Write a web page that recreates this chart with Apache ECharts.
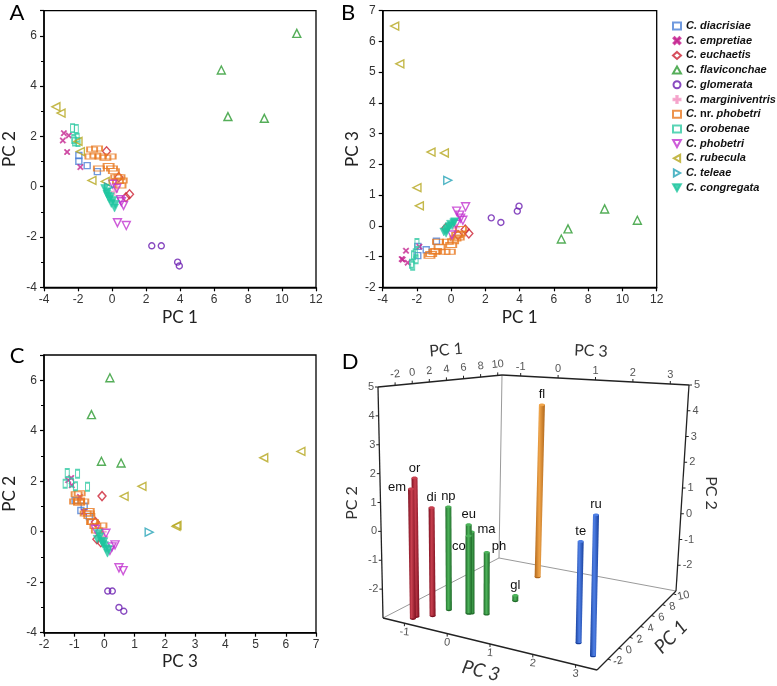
<!DOCTYPE html>
<html><head><meta charset="utf-8">
<script src="https://cdn.jsdelivr.net/npm/echarts@6/dist/echarts.min.js"></script>
<style>html,body{margin:0;padding:0;background:#fff}#c{width:777px;height:686px}</style>
</head><body><div id="c"></div>
<script>
// ---- data: each point is [PC1, PC2, PC3] ----
const speciesNames = ['C. diacrisiae','C. empretiae','C. euchaetis','C. flaviconchae','C. glomerata','C. marginiventris','C. nr. phobetri','C. orobenae','C. phobetri','C. rubecula','C. teleae','C. congregata'];
const diacrisiae = [[-1.95,1.24,-0.97],[-1.95,1.01,-0.67],[-1.46,0.84,-0.78],[-0.86,0.6,-0.5]];
const empretiae = [[-2.83,2.13,-1.1],[-2.54,2.04,-1.2],[-2.89,1.84,-1.08],[-2.64,1.38,-0.81],[-1.86,0.78,-0.68]];
const euchaetis = [[-0.32,1.41,-0.08],[1.03,-0.3,-0.25],[0.82,-0.42,-0.12],[0.4,0.38,-0.3]];
const flaviconchae = [[10.87,6.1,0.18],[6.43,4.64,-0.43],[6.82,2.79,-0.1],[8.96,2.72,0.55]];
const glomerata = [[2.34,-2.35,0.26],[2.9,-2.35,0.11],[3.86,-3.0,0.48],[3.96,-3.15,0.64]];
const marginiventris = [[0.14,-0.2,0.0],[0.3,0.0,-0.05]];
const nrPhobetri = [[-1.17,1.48,-0.92],[-0.88,1.52,-0.82],[-1.27,1.2,-0.97],[-0.98,1.24,-0.84],[-0.68,1.2,-0.7],[-0.39,1.15,-0.84],[-0.08,1.2,-0.84],[-0.77,0.72,-0.52],[-0.2,0.82,-0.52],[0.0,0.72,-0.62],[0.11,0.62,-0.5],[0.25,0.38,-0.41],[0.44,0.38,-0.38],[0.35,0.23,-0.3],[0.5,0.05,-0.25],[0.57,0.25,-0.1]];
const orobenae = [[-2.32,2.33,-1.23],[-2.1,2.3,-0.89],[-2.05,1.95,-1.09],[-2.2,1.8,-0.96],[-2.0,1.78,-0.56],[-2.25,1.9,-1.3]];
const phobetri = [[0.32,-1.43,0.48],[0.84,-1.54,0.62],[0.68,-0.74,0.18],[0.5,-0.52,0.35],[0.55,-0.6,0.25],[0.28,-0.06,0.05],[0.04,0.1,-0.3]];
const rubecula = [[-3.3,3.18,6.5],[-3.0,2.93,5.27],[-2.0,1.8,1.24],[-1.86,1.4,0.65],[-1.18,0.25,2.4],[-0.4,0.21,2.37]];
const teleae = [[-0.2,-0.02,1.48]];
const congregata = [[-0.43,-0.07,-0.2],[-0.28,-0.2,-0.15],[-0.24,-0.38,-0.1],[-0.14,-0.5,-0.05],[0.05,-0.55,0.0],[-0.04,-0.67,0.05],[0.15,-0.85,0.1],[-0.3,-0.3,-0.24],[0.2,-0.7,0.13],[-0.1,-0.4,-0.02]];
const speciesData = [diacrisiae,empretiae,euchaetis,flaviconchae,glomerata,marginiventris,nrPhobetri,orobenae,phobetri,rubecula,teleae,congregata];

// panel D (centroid bars): label, PC1, PC3, PC2 top
const dLabels = ['em','or','di','np','eu','co','ma','ph','gl','fl','te','ru'];
const dPC1 = [-2.9,-2.45,-1.7,-0.1,0.1,0.1,0.2,0.6,3.8,8.5,-0.6,-2.05];
const dPC3 = [-1.0,-1.0,-0.75,-0.65,-0.2,-0.2,-0.15,0.15,0.3,0.0,2.6,3.15];
const dPC2 = [1.5,1.85,0.8,0.7,0.15,-0.25,-0.1,-0.8,-2.8,4.0,0.35,1.5];
const dGroup = ['r','r','r','g','g','g','g','g','g','o','b','b'];
const dTicksPC1 = [-2,0,2,4,6,8,10];
const dTicksPC3 = [-1,0,1,2,3];
const dTicksPC2 = [-2,-1,0,1,2,3,4,5];

// ---- styles ----
const X_PATH = 'path://M0,1.6L1.6,0L5,3.4L8.4,0L10,1.6L6.6,5L10,8.4L8.4,10L5,6.6L1.6,10L0,8.4L3.4,5Z';
const PLUS_PATH = 'path://M4,0H6V4H10V6H6V10H4V6H0V4H4Z';
const TRI_DOWN = 'path://M0,0L10,0L5,9Z';
const TRI_LEFT = 'path://M9,0L9,10L0,5Z';
const TRI_RIGHT = 'path://M0,0L0,10L9,5Z';
const styles = [
  {symbol:'rect', size:6, color:'#4b7fd6', hollow:true},
  {symbol:X_PATH, size:6, color:'#c4228f', hollow:false},
  {symbol:'diamond', size:[8,9], color:'#cc2233', hollow:true},
  {symbol:'triangle', size:8, color:'#2b9a2f', hollow:true},
  {symbol:'circle', size:6, color:'#6a1db0', hollow:true},
  {symbol:PLUS_PATH, size:7, color:'#f49ac6', hollow:false},
  {symbol:'rect', size:[10,5], color:'#e8781f', hollow:true},
  {symbol:'rect', size:[4,8], color:'#2fc9a2', hollow:true},
  {symbol:TRI_DOWN, size:8, color:'#c233cf', hollow:true},
  {symbol:TRI_LEFT, size:8, color:'#b5a61d', hollow:true},
  {symbol:TRI_RIGHT, size:8, color:'#24a2b6', hollow:true},
  {symbol:TRI_DOWN, size:8, color:'#1fc69f', hollow:false}
];
const dColors = {r:['#7d1020','#c8404f'], g:['#1f6b29','#4db35a'], o:['#b0661a','#f0a54a'], b:['#173f9c','#4f80e6']};

const FONT = '"Liberation Sans", Arial, sans-serif';
const TFONT = 'Lato, "Open Sans", sans-serif';

// ---- scatter panels ----
const grids = [
  {left:42.3, top:10.7, width:273.7, height:276.6},
  {left:382.7, top:10.7, width:274, height:276.6},
  {left:42.3, top:355, width:273.7, height:277.7}
];
function axis(gi, min, max, interval, name, gap, minor, isY, hideTop) {
  return {
    gridIndex: gi, type:'value', min, max, interval,
    name, nameLocation:'middle', nameGap: gap,
    nameTextStyle:{fontFamily:TFONT, fontSize:17, color:'#222'},
    axisLine:{show:true, onZero:false, lineStyle:{color:'#000', width:1.5}},
    axisTick:{show:true, length:4, lineStyle:{color:'#000', width:1.2}},
    minorTick:{show:minor, splitNumber:2, length:3, lineStyle:{color:'#000', width:1}},
    axisLabel:{fontFamily:FONT, fontSize:12, color:'#333', margin:isY?7:6,
      showMinLabel:true, showMaxLabel:true,
      formatter: v => (hideTop && v===max) ? '' : String(v)},
    splitLine:{show:false}
  };
}
const xAxes = [
  axis(0,-4,12,2,'PC 1',22,false,false,false),
  axis(1,-4,12,2,'PC 1',22,false,false,false),
  axis(2,-2,7,1,'PC 3',20,false,false,false)
];
const yAxes = [
  axis(0,-4,7,2,'PC 2',26,true,true,true),
  axis(1,-2,7,1,'PC 3',22,false,true,false),
  axis(2,-4,7,2,'PC 2',26,true,true,true)
];

const panelDims = [[0,1],[0,2],[2,1]];
const series = [];
panelDims.forEach((dims, pi) => {
  speciesNames.forEach((nm, si) => {
    const st = styles[si];
    series.push({
      type:'scatter', name:nm, xAxisIndex:pi, yAxisIndex:pi,
      symbol: st.symbol, symbolSize: st.size,
      itemStyle: st.hollow ? {color:'rgba(255,255,255,0)', borderColor:st.color, borderWidth:1.4}
                           : {color:st.color, borderColor:st.color, borderWidth:0.5},
      emphasis:{disabled:true},
      data: speciesData[si].map(p => [p[dims[0]], p[dims[1]]])
    });
  });
});

// ---- panel D projection (box corners in screen space) ----
const R3 = [-1.5,3.5], R1 = [-4,10.5], R2 = [-3,5];
const BOX = {
  f00:[383,618], f10:[597,670], f01:[499,558], f11:[676,591],
  c00:[378,387], c10:[602,410], c01:[502,375], c11:[689,385]
};
function proj(pc3, pc1, pc2) {
  const u=(pc3-R3[0])/(R3[1]-R3[0]), v=(pc1-R1[0])/(R1[1]-R1[0]), w=(pc2-R2[0])/(R2[1]-R2[0]);
  const bil=(a,b,c,d,k)=>(1-u)*(1-v)*a[k]+u*(1-v)*b[k]+(1-u)*v*c[k]+u*v*d[k];
  const F=[bil(BOX.f00,BOX.f10,BOX.f01,BOX.f11,0), bil(BOX.f00,BOX.f10,BOX.f01,BOX.f11,1)];
  const C=[bil(BOX.c00,BOX.c10,BOX.c01,BOX.c11,0), bil(BOX.c00,BOX.c10,BOX.c01,BOX.c11,1)];
  return [F[0]+w*(C[0]-F[0]), F[1]+w*(C[1]-F[1])];
}
const g = [];
function line(a,b,color,w){ g.push({type:'line', silent:true, z:1, shape:{x1:a[0],y1:a[1],x2:b[0],y2:b[1]}, style:{stroke:color, lineWidth:w}}); }
function txt(x,y,t,opt){ g.push({type:'text', silent:true, z:5, x, y, rotation:opt.rot||0,
  style:{text:t, fill:opt.fill||'#555', font:opt.font||('11px '+FONT), align:opt.align||'center', verticalAlign:opt.va||'middle'}}); }
const [a3,b3]=R3, [a1,b1]=R1, [a2,b2]=R2;
// grey back lines
line(proj(a3,b1,a2), proj(a3,b1,b2), '#9a9a9a', 1);
line(proj(a3,b1,a2), proj(a3,a1,a2), '#9a9a9a', 1);
line(proj(a3,b1,a2), proj(b3,b1,a2), '#9a9a9a', 1);
// dark axes
const K='#222';
line(proj(a3,a1,a2), proj(a3,a1,b2), K, 1.3);
line(proj(a3,a1,b2), proj(a3,b1,b2), K, 1.3);
line(proj(a3,b1,b2), proj(b3,b1,b2), K, 1.3);
line(proj(b3,b1,a2), proj(b3,b1,b2), K, 1.3);
line(proj(a3,a1,a2), proj(b3,a1,a2), K, 1.3);
line(proj(b3,a1,a2), proj(b3,b1,a2), K, 1.3);
// ticks + labels
dTicksPC2.forEach(v => {
  const p = proj(a3,a1,v); line(p,[p[0]-3,p[1]],K,1); txt(p[0]-4,p[1],String(v),{align:'right'});
  const q = proj(b3,b1,v); line(q,[q[0]+3,q[1]],K,1); txt(q[0]+5,q[1],String(v),{align:'left'});
});
dTicksPC1.forEach(v => {
  const p = proj(a3,v,b2); line(p,[p[0],p[1]-3],K,1); txt(p[0],p[1]-11,String(v),{rot:0.1});
  const q = proj(b3,v,a2); line(q,[q[0]+3,q[1]+1],K,1); txt(q[0]+10,q[1]+2,String(v),{rot:0.2});
});
dTicksPC3.forEach(v => {
  const p = proj(v,b1,b2); line(p,[p[0],p[1]-3],K,1); txt(p[0],p[1]-9,String(v),{});
  const q = proj(v,a1,a2); line(q,[q[0],q[1]+3],K,1); txt(q[0],q[1]+9,String(v),{rot:-0.1});
});
// axis titles
txt(446,350,'PC 1',{font:'16px '+TFONT, fill:'#333', rot:0.08});
txt(591,351,'PC 3',{font:'16px '+TFONT, fill:'#333', rot:-0.04});
txt(352,503,'PC 2',{font:'16px '+TFONT, fill:'#333', rot:Math.PI/2});
txt(711,493,'PC 2',{font:'16px '+TFONT, fill:'#333', rot:-Math.PI/2});
txt(481,671,'PC 3',{font:'italic 19px '+TFONT, fill:'#333', rot:-0.24});
txt(671,637,'PC 1',{font:'italic 19px '+TFONT, fill:'#333', rot:Math.PI/4});
// panel letters
[['A',17,13],['B',348,13],['C',17,356],['D',350,362]].forEach(l => txt(l[1],l[2],l[0],{font:'22px '+TFONT, fill:'#000'}));

// bars sorted back to front
const dOrder = dLabels.map((l,i)=>i).sort((i,j)=> dPC1[j]-dPC1[i]);
const dLabelPlace = {em:[-5,-2,'right'], co:[-3,10,'right'], ma:[6,-2,'left'], ph:[5,-6,'left']};
series.push({
  type:'custom', name:'D', coordinateSystem:'none', silent:true, z:3,
  data: dOrder.map(i => [dPC3[i], dPC1[i], dPC2[i], i]),
  renderItem: (params, api) => {
    const i = api.value(3);
    const b = proj(api.value(0), api.value(1), R2[0]);
    const t = proj(api.value(0), api.value(1), api.value(2));
    const hw = 3;
    const c = dColors[dGroup[i]];
    const grad = new echarts.graphic.LinearGradient(0,0,1,0,[{offset:0,color:c[0]},{offset:0.45,color:c[1]},{offset:1,color:c[0]}]);
    const lab = dLabels[i];
    const lp = dLabelPlace[lab] || [0,-10,'center'];
    return {type:'group', children:[
      {type:'ellipse', shape:{cx:b[0], cy:b[1], rx:hw, ry:1.4}, style:{fill:c[0]}},
      {type:'polygon', shape:{points:[[b[0]-hw,b[1]],[b[0]+hw,b[1]],[t[0]+hw,t[1]],[t[0]-hw,t[1]]]}, style:{fill:grad}},
      {type:'ellipse', shape:{cx:t[0], cy:t[1], rx:hw, ry:1.4}, style:{fill:c[1]}},
      {type:'text', style:{text:lab, x:t[0]+lp[0], y:t[1]+lp[1], align:lp[2], verticalAlign:'middle', font:'13px '+FONT, fill:'#111'}}
    ]};
  }
});

const chart = echarts.init(document.getElementById('c'), null, {renderer:'canvas'});
chart.setOption({
  animation:false,
  backgroundColor:'#fff',
  grid: grids.map(gr => Object.assign({show:true, borderColor:'#000', borderWidth:1.3, backgroundColor:'transparent'}, gr)),
  xAxis: xAxes,
  yAxis: yAxes,
  legend:{
    data: speciesNames, orient:'vertical', left:672, top:20.5, padding:0,
    itemWidth:8, itemHeight:7, itemGap:3.7, selectedMode:false,
    textStyle:{fontFamily:FONT, fontSize:11, fontWeight:'bold', fontStyle:'italic', color:'#111',
      rich:{i:{fontFamily:FONT, fontSize:11, fontWeight:'bold', fontStyle:'italic', color:'#111'},
            n:{fontFamily:FONT, fontSize:11, fontWeight:'bold', fontStyle:'normal', color:'#111'}}},
    formatter: n => n === 'C. nr. phobetri' ? '{i|C.} {n|nr.} {i|phobetri}' : n
  },
  graphic:{elements:g},
  series
});
</script></body></html>
